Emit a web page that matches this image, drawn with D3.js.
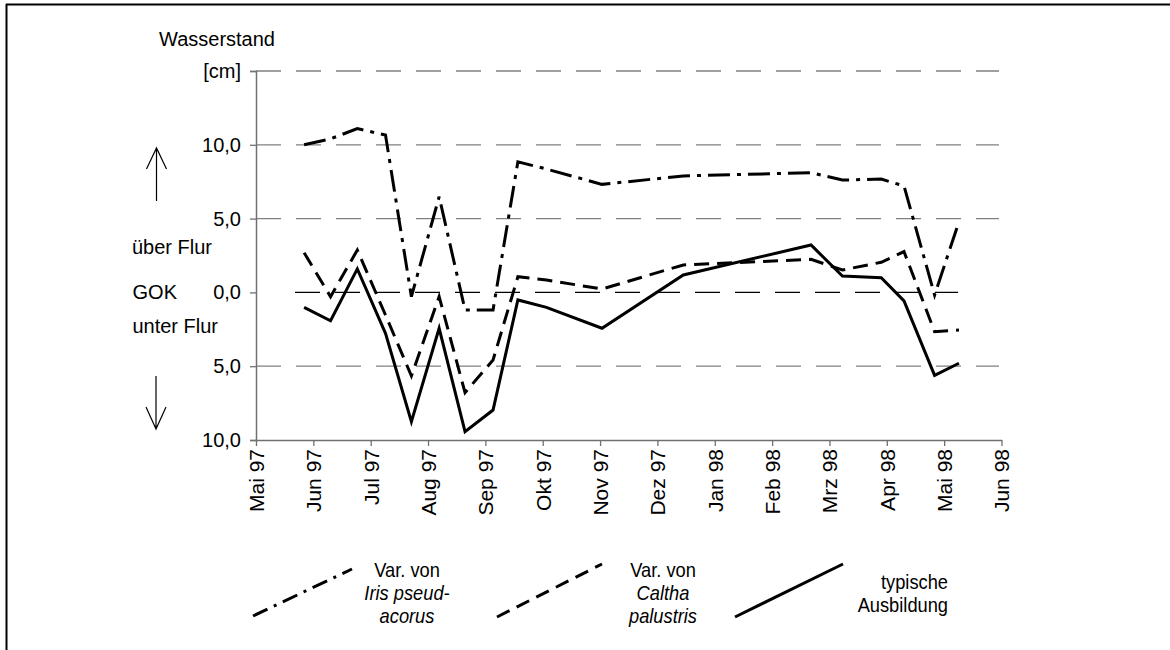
<!DOCTYPE html>
<html>
<head>
<meta charset="utf-8">
<script src="https://cdn.jsdelivr.net/npm/d3@7"></script>
<style>
  html, body { margin: 0; padding: 0; background: #fff; }
  svg { display: block; }
  text { font-family: "Liberation Sans", Arial, sans-serif; fill: #000; }
</style>
</head>
<body>
<svg id="chart" width="1170" height="650"></svg>
<script>
// ---------- data ----------
const dates = ["1997-05-27","1997-06-10","1997-06-24","1997-07-09","1997-07-23","1997-08-07",
               "1997-08-21","1997-09-05","1997-09-18","1997-10-03","1997-11-02","1997-12-15",
               "1998-02-20","1998-03-08","1998-03-29","1998-04-10","1998-04-26","1998-05-09"];
const iris    = [10.0, 10.4, 11.1, 10.66, -0.29, 6.48, -1.19, -1.19, 8.85, 8.36, 7.32, 7.89, 8.11, 7.61, 7.68, 7.21, -0.18, 4.79];
const caltha  = [2.69, -0.29, 2.87, -1.53, -5.66, -0.29, -6.79, -4.58, 1.06, 0.84, 0.23, 1.86, 2.24, 1.52, 2.04, 2.76, -2.66, -2.55];
const typisch = [-1.01, -1.92, 1.59, -2.77, -8.76, -2.43, -9.44, -7.97, -0.51, -1.01, -2.43, 1.18, 3.21, 1.11, 1.0, -0.58, -5.62, -4.80];
const monthLabels = ["Mai 97","Jun 97","Jul 97","Aug 97","Sep 97","Okt 97","Nov 97","Dez 97",
                     "Jan 98","Feb 98","Mrz 98","Apr 98","Mai 98","Jun 98"];
const yTickValues = [-10, -5, 0, 5, 10, 15];
const yTickLabels = ["10,0", "5,0", "0,0", "5,0", "10,0", "[cm]"];
const seriesNames = [["Var. von", "Iris pseud-", "acorus"], ["Var. von", "Caltha", "palustris"], ["typische", "Ausbildung"]];

// months since 1 May 1997 (uniform month spacing like the original axis)
function monthIndex(s) {
  const d = new Date(s + "T00:00:00");
  const y = d.getFullYear(), m = d.getMonth();
  const dim = new Date(y, m + 1, 0).getDate();
  return (y - 1997) * 12 + (m - 4) + (d.getDate() - 1) / dim;
}

// ---------- layout ----------
const svg = d3.select("#chart");
const x = d3.scaleLinear().domain([0, 13]).range([256, 1001.5]);
const y = d3.scaleLinear().domain([-10, 15]).range([440, 71]);
const font = 20;
const ff = "'Liberation Sans', Arial, sans-serif";

// frame
svg.append("line").attr("x1", 6).attr("x2", 1170).attr("y1", 4.5).attr("y2", 4.5)
  .attr("stroke", "#000").attr("stroke-width", 2);
svg.append("line").attr("x1", 6.5).attr("x2", 6.5).attr("y1", 4).attr("y2", 650)
  .attr("stroke", "#000").attr("stroke-width", 2);

// gridlines
const g = svg.append("g");
yTickValues.filter(v => v !== -10 && v !== 0).forEach(v => {
  g.append("line").attr("x1", 256).attr("x2", 999).attr("y1", y(v)).attr("y2", y(v))
    .attr("stroke", "#808080").attr("stroke-width", 1.3).attr("stroke-dasharray", "25,15");
});
// zero line (black dashed)
g.append("line").attr("x1", 295).attr("x2", 958).attr("y1", y(0)).attr("y2", y(0))
  .attr("stroke", "#000").attr("stroke-width", 1.2).attr("stroke-dasharray", "25,15");

// axes
const yAxis = d3.axisLeft(y).tickValues(yTickValues).tickSize(6)
  .tickFormat((d, i) => yTickLabels[i]);
const ya = svg.append("g").attr("transform", "translate(256,0)").call(yAxis);
ya.select(".domain").attr("stroke", "#707070").attr("stroke-width", 1.5);
ya.selectAll(".tick line").attr("stroke", "#707070").attr("stroke-width", 1.3);
ya.selectAll(".tick text").attr("font-size", font).attr("x", -15).style("font-family", ff);

const xAxis = d3.axisBottom(x).tickValues(d3.range(0, 14)).tickSize(6)
  .tickSizeOuter(0).tickFormat(i => monthLabels[i]);
const xa = svg.append("g").attr("transform", "translate(0,440)").call(xAxis);
xa.select(".domain").attr("stroke", "#707070").attr("stroke-width", 1.5);
xa.selectAll(".tick line").attr("stroke", "#707070").attr("stroke-width", 1.3);
xa.selectAll(".tick text").attr("font-size", 21).style("font-family", ff)
  .attr("text-anchor", "end").attr("transform", "rotate(-90)")
  .attr("x", -9).attr("y", 0).attr("dy", "0.35em");

// axis title & side labels
svg.append("text").attr("x", 159).attr("y", 46).attr("font-size", font).text("Wasserstand");
svg.append("text").attr("x", 212).attr("y", y(3.1)).attr("dy", "0.35em").attr("text-anchor", "end")
  .attr("font-size", font).text("über Flur");
svg.append("text").attr("x", 177).attr("y", y(0)).attr("dy", "0.35em").attr("text-anchor", "end")
  .attr("font-size", font).text("GOK");
svg.append("text").attr("x", 218).attr("y", y(-2.3)).attr("dy", "0.35em").attr("text-anchor", "end")
  .attr("font-size", font).text("unter Flur");

// arrows
const arrow = svg.append("g").attr("stroke", "#000").attr("stroke-width", 1.2).attr("fill", "none");
arrow.append("path").attr("d", "M156.5,201 L156.5,148 M146.5,169 L156.5,148 L166.5,169");
arrow.append("path").attr("d", "M156,376 L156,429 M146,407 L156,429 L166,407");

// series
const styles = [
  { data: iris,    dash: "22,7,4,7" },
  { data: caltha,  dash: "15,8" },
  { data: typisch, dash: null }
];
const line = d3.line().x(d => x(d[0])).y(d => y(d[1]));
styles.forEach(s => {
  const pts = dates.map((d, i) => [monthIndex(d), s.data[i]]);
  svg.append("path").datum(pts).attr("d", line).attr("fill", "none")
    .attr("stroke", "#000").attr("stroke-width", 3).attr("stroke-linejoin", "miter")
    .attr("stroke-dasharray", s.dash);
});

// legend
const legend = [
  { x1: 253, y1: 616, x2: 352, y2: 569, dash: "16,7,3,7", tx: 407, anchor: "middle", ty: [570, 593, 616], italic: [false, true, true] },
  { x1: 497, y1: 617, x2: 602, y2: 564, dash: "14,8", tx: 663, anchor: "middle", ty: [570, 593, 616], italic: [false, true, true] },
  { x1: 735, y1: 617, x2: 843, y2: 564, dash: null, tx: 948, anchor: "end", ty: [582, 605], italic: [false, false] }
];
legend.forEach((L, k) => {
  svg.append("line").attr("x1", L.x1).attr("y1", L.y1).attr("x2", L.x2).attr("y2", L.y2)
    .attr("stroke", "#000").attr("stroke-width", 3).attr("stroke-dasharray", L.dash);
  seriesNames[k].forEach((t, j) => {
    svg.append("text").attr("x", 0).attr("y", 0).attr("dy", "0.35em")
      .attr("text-anchor", L.anchor).attr("font-size", 21)
      .attr("transform", `translate(${L.tx},${L.ty[j]}) scale(0.87,1)`)
      .style("font-style", L.italic[j] ? "italic" : "normal").text(t);
  });
});
</script>
</body>
</html>
